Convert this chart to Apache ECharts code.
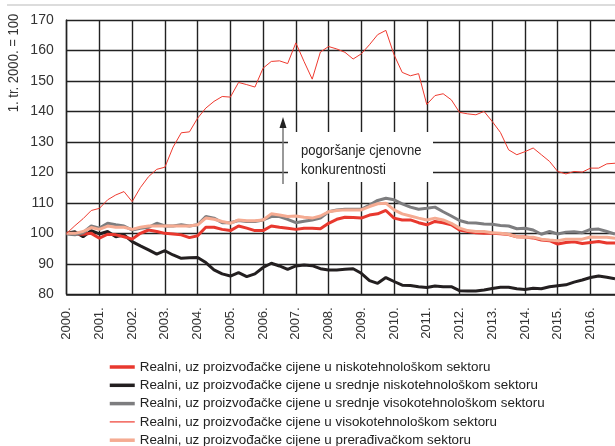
<!DOCTYPE html>
<html>
<head>
<meta charset="utf-8">
<script src="https://cdn.jsdelivr.net/npm/echarts@6/dist/echarts.min.js"></script>
<style>
  html, body { margin: 0; padding: 0; background: #fff; }
  #chart { width: 615px; height: 446px; }
</style>
</head>
<body>
<div id="chart"></div>
<script>
  // kvartali 2000Q1 - 2016Q4
  var years = [];
  for (var y = 2000; y <= 2016; y++) years.push(y);
  var quarters = [];
  years.forEach(function (yr) {
    for (var q = 1; q <= 4; q++) quarters.push(yr + 'Q' + q);
  });

  var yTicks = [80, 90, 100, 110, 120, 130, 140, 150, 160, 170];

  var seriesNames = [
    'Realni, uz proizvođačke cijene u niskotehnološkom sektoru',
    'Realni, uz proizvođačke cijene u srednje niskotehnološkom sektoru',
    'Realni, uz proizvođačke cijene u srednje visokotehnološkom sektoru',
    'Realni, uz proizvođačke cijene u visokotehnološkom sektoru',
    'Realni, uz proizvođačke cijene u prerađivačkom sektoru'
  ];

  // niskotehnoloski
  var nisko = [100, 99.8, 99.7, 100, 98.4, 99.7, 99.5, 98.9, 98.1, 100, 101.1, 100.6, 100, 99.8, 99.5, 98.6,
    99.2, 102, 102, 101.3, 100.9, 102.4, 101.7, 100.9, 100.9, 102.4, 102, 101.7, 101.3, 101.7, 101.7, 101.5,
    103.3, 104.6, 105.3, 105.2, 105, 106, 106.4, 107.5, 105, 104.4, 104.4, 103.5, 102.8, 103.9, 103.5, 102.8,
    101.1, 100.6, 100.2, 100, 100, 99.9, 99.6, 98.9, 98.8, 98.5, 97.8, 97.6, 96.5, 97, 97.2, 96.7,
    97, 97.3, 96.8, 96.8];
  // srednje niskotehnoloski
  var srednjeNisko = [100, 100.5, 98.9, 100.9, 99.8, 100.6, 98.9, 99.5, 97.3, 95.9, 94.6, 93.2, 94.3, 92.9, 91.8, 92,
    92.1, 90.4, 88, 86.7, 86, 87.1, 85.8, 86.7, 88.8, 90.2, 89.3, 88.2, 89.3, 89.6, 89.4, 88.4,
    88, 88, 88.2, 88.4, 86.9, 84.5, 83.6, 85.5, 84.2, 83, 82.9, 82.5, 82.2, 82.7, 82.5, 82.5,
    81.2, 81.1, 81.1, 81.4, 81.9, 82.3, 82.3, 81.8, 81.6, 82, 81.8, 82.5, 82.8, 83.1, 84, 84.7,
    85.5, 86, 85.6, 85.1];
  // srednje visokotehnoloski
  var srednjeVisoko = [99.8, 99.5, 100.2, 102.4, 101.7, 103.3, 102.8, 102.4, 101.1, 101.7, 102, 103.3, 102.4, 102.4, 102.8, 102.4,
    102.8, 105.5, 105, 103.5, 103.5, 104.2, 103.9, 103.9, 104.4, 105.5, 105.5, 104.6, 103.5, 104, 104.4, 105,
    107.1, 107.7, 107.9, 107.9, 107.9, 109.3, 110.8, 111.5, 111, 109.7, 108.6, 107.9, 108.2, 108.6, 107.1, 105.7,
    104.2, 103.5, 103.4, 103.1, 103, 102.6, 102.4, 101.5, 101.7, 101.1, 99.7, 100.6, 99.8, 100.4, 100.5, 100.2,
    101.3, 101.4, 100.6, 99.8];
  // visokotehnoloski
  var visoko = [100, 102.5, 104.8, 107.5, 108.2, 111, 112.6, 113.7, 110.4, 115, 118.6, 121, 121.7, 128.3, 133, 133.3,
    137.8, 141.1, 143.3, 144.9, 144.7, 149.5, 148.8, 148, 154.2, 156.4, 156.6, 155.7, 162.5, 156.4, 150.6, 159.5,
    161.3, 160.5, 159.4, 157.2, 158.9, 161.9, 165.2, 166.6, 158.6, 152.8, 151.7, 152.4, 142.3, 145.2, 145.8, 143.8,
    139.7, 139.2, 138.9, 140, 136.7, 133.1, 127.4, 125.8, 126.8, 128, 125.8, 123.6, 120.3, 119.5, 120.3, 120.1,
    121.4, 121.4, 122.8, 123];
  // preradivacki
  var preradivacki = [100, 100, 100.6, 101.9, 101.3, 102.4, 102, 102, 101.3, 102, 102.4, 102.4, 102.4, 102.4, 102.4, 102.4,
    102.8, 105, 104.6, 103.9, 103.3, 104.4, 104.1, 104.1, 104.4, 106.4, 106, 105.5, 105.7, 105.3, 105, 105.7,
    107.1, 107.5, 107.7, 107.7, 107.7, 108.8, 109.7, 109.9, 107.7, 106.4, 105.7, 105, 104.4, 105, 104.4, 103.3,
    101.7, 100.9, 100.6, 100.6, 100.2, 100, 99.7, 98.9, 98.7, 98.7, 98.1, 97.8, 97.6, 98.1, 98.1, 98.1,
    98.8, 98.7, 98.7, 98.4];

  var font = "'Liberation Sans', Arial, sans-serif";

  var chart = echarts.init(document.getElementById('chart'), null, { renderer: 'canvas' });

  var option = {
    backgroundColor: '#fff',
    animation: false,
    textStyle: { fontFamily: font },
    grid: { left: 66.7, top: 20, right: 0, bottom: 151.7, containLabel: false },
    legend: {
      orient: 'vertical',
      left: 103,
      top: 355.5,
      height: 120,
      itemWidth: 25,
      itemHeight: 14,
      itemGap: 5.3,
      itemTextGap: 13,
      itemStyle: { opacity: 0, color: 'transparent', borderWidth: 0 },
      textStyle: { fontFamily: font, fontSize: 13.4, color: '#222' },
      data: seriesNames.map(function (n, i) {
        return { name: n, lineStyle: { width: i === 3 ? 1.2 : 3.5 } };
      })
    },
    xAxis: {
      type: 'category',
      data: quarters,
      boundaryGap: false,
      axisLine: { lineStyle: { color: '#222', width: 1.5 } },
      axisTick: { show: false },
      axisLabel: {
        rotate: 90,
        margin: 13,
        fontSize: 13,
        color: '#333',
        fontFamily: font,
        interval: function (i) { return i % 4 === 0; },
        formatter: function (v) { return v.slice(0, 4) + '.'; }
      },
      splitLine: {
        show: true,
        interval: function (i) { return i % 4 === 0; },
        lineStyle: { color: '#222', width: 1.4 }
      }
    },
    yAxis: {
      type: 'value',
      min: yTicks[0],
      max: yTicks[yTicks.length - 1],
      interval: 10,
      axisLine: { show: true, lineStyle: { color: '#222', width: 1.4 } },
      axisTick: { show: false },
      axisLabel: { margin: 13, fontSize: 14, color: '#333', fontFamily: font },
      splitLine: { lineStyle: { color: '#222', width: 1.4 } }
    },
    graphic: [
      { type: 'line', shape: { x1: 7, y1: 5, x2: 615, y2: 5 }, style: { stroke: '#d0d0d0', lineWidth: 1.5 }, z: 10 },
      {
        type: 'text', x: 14, y: 63, rotation: Math.PI / 2, scaleX: 0.87,
        style: { text: '1. tr. 2000. = 100', fontSize: 15, fontFamily: font, fill: '#333', align: 'center', verticalAlign: 'middle' },
        z: 10
      },
      { type: 'rect', shape: { x: 288, y: 132, width: 145, height: 50 }, style: { fill: '#fff' }, z: 5 },
      { type: 'line', shape: { x1: 283, y1: 184, x2: 283, y2: 126 }, style: { stroke: '#777', lineWidth: 1.5 }, z: 6 },
      { type: 'polygon', shape: { points: [[283, 117], [279.5, 128], [286.5, 128]] }, style: { fill: '#222' }, z: 6 },
      {
        type: 'text', x: 301, y: 141, scaleX: 0.87,
        style: { text: 'pogoršanje cjenovne\nkonkurentnosti', fontSize: 15, lineHeight: 19, fontFamily: font, fill: '#222' },
        z: 6
      }
    ],
    series: [
      { name: seriesNames[1], type: 'line', data: srednjeNisko, symbol: 'none', z: 2,
        lineStyle: { color: '#231f20', width: 3 }, itemStyle: { color: '#231f20' } },
      { name: seriesNames[0], type: 'line', data: nisko, symbol: 'none', z: 3,
        lineStyle: { color: '#e8382e', width: 3 }, itemStyle: { color: '#e8382e' } },
      { name: seriesNames[2], type: 'line', data: srednjeVisoko, symbol: 'none', z: 4,
        lineStyle: { color: '#7d7d7f', width: 3 }, itemStyle: { color: '#7d7d7f' } },
      { name: seriesNames[4], type: 'line', data: preradivacki, symbol: 'none', z: 5,
        lineStyle: { color: '#f5ab92', width: 3 }, itemStyle: { color: '#f5ab92' } },
      { name: seriesNames[3], type: 'line', data: visoko, symbol: 'none', z: 6,
        lineStyle: { color: '#ee3a2f', width: 1 }, itemStyle: { color: '#ee3a2f' } }
    ]
  };

  chart.setOption(option);
</script>
</body>
</html>
